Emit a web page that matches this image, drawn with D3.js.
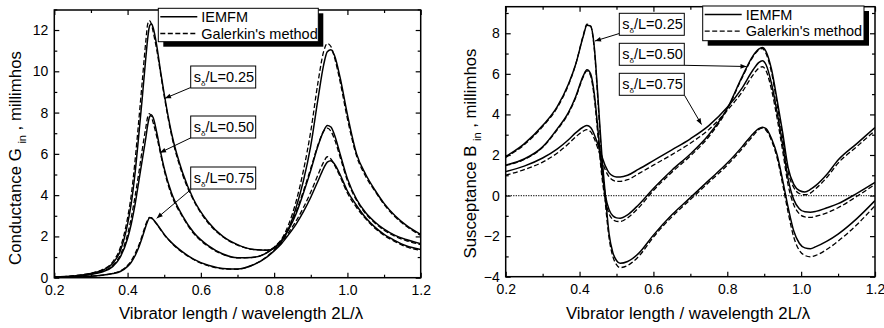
<!DOCTYPE html>
<html>
<head>
<meta charset="utf-8">
<script src="https://cdn.jsdelivr.net/npm/d3@7"></script>
<style>
  body { margin: 0; background: #fff; }
  svg { display: block; font-family: "Liberation Sans", Arial, sans-serif; }
</style>
</head>
<body>
<svg id="chart" width="884" height="328"></svg>
<script>
// ---- data: conductance (left panel) ----
const xG = [0.20,0.25,0.30,0.33,0.36,0.38,0.40,0.41,0.42,0.43,0.44,0.45,0.455,0.46,0.465,0.47,0.48,0.49,0.50,0.52,0.55,0.58,0.62,0.66,0.70,0.74,0.78,0.80,0.82,0.84,0.86,0.88,0.90,0.92,0.935,0.945,0.955,0.965,0.98,1.00,1.025,1.05,1.075,1.10,1.13,1.16,1.20];
const G25s = [0.03,0.08,0.2,0.35,0.7,1.3,2.6,3.6,5.0,6.8,8.7,10.7,11.6,12.2,12.3,12.1,11.2,10.0,8.9,7.0,5.1,3.8,2.7,2.0,1.6,1.38,1.33,1.42,1.75,2.4,3.4,4.7,6.4,8.7,10.3,10.95,11.05,10.75,9.7,7.9,6.0,5.0,4.25,3.6,3.0,2.55,2.1];
const G25d = [0.03,0.09,0.22,0.38,0.78,1.45,2.9,4.0,5.6,7.5,9.5,11.5,12.3,12.45,12.3,11.9,11.0,9.9,8.8,6.9,5.0,3.75,2.65,1.98,1.58,1.37,1.34,1.46,1.85,2.6,3.7,5.2,7.1,9.5,10.95,11.35,11.2,10.65,9.5,7.7,5.9,4.9,4.2,3.55,2.95,2.5,2.05];
const G50s = [0.02,0.06,0.16,0.28,0.55,1.0,1.9,2.6,3.5,4.6,5.7,6.8,7.4,7.8,7.9,7.75,7.0,6.1,5.3,4.1,3.0,2.2,1.55,1.15,0.97,0.98,1.2,1.45,1.8,2.35,3.1,4.1,5.2,6.4,7.1,7.38,7.3,6.9,6.0,4.8,3.8,3.15,2.7,2.35,2.05,1.85,1.65];
const G50d = [0.02,0.07,0.18,0.31,0.6,1.1,2.1,2.9,3.9,5.0,6.2,7.3,7.8,7.95,7.8,7.5,6.8,6.0,5.2,4.0,2.95,2.15,1.52,1.13,0.96,0.98,1.22,1.48,1.85,2.42,3.2,4.2,5.3,6.45,7.1,7.25,7.1,6.7,5.85,4.7,3.75,3.1,2.65,2.3,2.0,1.8,1.6];
const G75s = [0.01,0.03,0.07,0.12,0.2,0.3,0.55,0.75,1.05,1.45,1.95,2.5,2.75,2.9,2.9,2.82,2.6,2.35,2.1,1.7,1.25,0.9,0.6,0.45,0.42,0.6,1.0,1.3,1.65,2.1,2.6,3.2,3.9,4.7,5.3,5.6,5.67,5.5,5.0,4.2,3.5,2.9,2.45,2.1,1.8,1.55,1.37];
const G75d = [0.01,0.03,0.07,0.12,0.21,0.32,0.6,0.82,1.15,1.55,2.05,2.6,2.8,2.92,2.88,2.8,2.58,2.33,2.08,1.68,1.22,0.88,0.58,0.43,0.41,0.6,1.02,1.33,1.72,2.2,2.75,3.4,4.15,5.0,5.6,5.86,5.75,5.45,4.9,4.1,3.4,2.85,2.4,2.05,1.75,1.5,1.32];

// ---- data: susceptance (right panel) ----
const xB = [0.20,0.25,0.30,0.34,0.37,0.39,0.41,0.42,0.43,0.44,0.45,0.46,0.47,0.48,0.49,0.50,0.51,0.53,0.56,0.60,0.65,0.70,0.75,0.80,0.84,0.87,0.885,0.895,0.905,0.92,0.935,0.95,0.965,0.98,0.995,1.01,1.025,1.04,1.07,1.10,1.15,1.20];
const B25s = [1.92,2.55,3.45,4.4,5.5,6.5,7.85,8.4,8.35,7.3,4.8,2.1,0.0,-1.9,-2.8,-3.2,-3.34,-3.25,-2.85,-1.95,-0.95,-0.1,0.75,1.6,2.4,3.05,3.3,3.37,3.3,2.8,2.0,0.75,-0.6,-1.75,-2.35,-2.58,-2.62,-2.52,-2.25,-1.9,-1.15,-0.25];
const B25d = [1.88,2.5,3.4,4.35,5.45,6.5,7.9,8.45,8.35,7.2,4.6,1.8,-0.4,-2.1,-3.0,-3.4,-3.55,-3.45,-3.0,-2.05,-1.05,-0.2,0.65,1.5,2.3,2.95,3.25,3.32,3.22,2.7,1.85,0.55,-0.85,-2.05,-2.7,-2.95,-3.02,-2.95,-2.65,-2.25,-1.45,-0.5];
const B50s = [1.5,1.8,2.4,3.3,4.1,4.9,5.9,6.2,6.0,5.0,3.2,1.3,0.0,-0.7,-1.0,-1.1,-1.12,-0.95,-0.45,0.35,1.25,2.05,3.0,4.3,5.85,6.9,7.22,7.3,7.1,6.2,4.7,3.1,1.35,0.55,0.25,0.18,0.3,0.5,1.05,1.75,2.55,3.35];
const B50d = [1.48,1.78,2.38,3.25,4.05,4.85,5.85,6.15,5.9,4.8,2.9,1.0,-0.25,-0.9,-1.18,-1.27,-1.28,-1.1,-0.6,0.25,1.15,1.95,2.9,4.25,5.8,6.85,7.18,7.25,7.0,6.05,4.5,2.85,1.15,0.4,0.1,0.04,0.12,0.35,0.9,1.6,2.4,3.2];
const B75s = [1.18,1.45,1.85,2.3,2.75,3.1,3.38,3.45,3.35,3.0,2.5,1.95,1.45,1.12,0.97,0.92,0.92,1.0,1.3,1.72,2.25,2.8,3.45,4.35,5.3,6.2,6.55,6.65,6.45,5.5,4.1,2.5,0.8,-0.2,-0.65,-0.8,-0.82,-0.78,-0.6,-0.4,0.1,0.65];
const B75d = [1.0,1.28,1.65,2.1,2.55,2.9,3.18,3.25,3.15,2.8,2.3,1.75,1.25,0.92,0.76,0.7,0.7,0.78,1.08,1.5,2.02,2.58,3.25,4.2,5.1,5.95,6.28,6.35,6.15,5.2,3.8,2.2,0.5,-0.45,-0.9,-1.05,-1.08,-1.02,-0.85,-0.6,-0.05,0.55];

const xMajor = [0.2,0.4,0.6,0.8,1.0,1.2];
const xMinor = [0.3,0.5,0.7,0.9,1.1];
const gMajor = [0,2,4,6,8,10,12];
const gMinor = [1,3,5,7,9,11,13];
const bMajor = [-4,-2,0,2,4,6,8];
const bMinor = [-3,-1,1,3,5,7,9];
const legendLabels = ["IEMFM", "Galerkin's method"];
const ratioLabels = ["0.25", "0.50", "0.75"];

const svg = d3.select("#chart");
const font = "'Liberation Sans', Arial, sans-serif";

svg.append("defs").append("marker")
    .attr("id", "arr")
    .attr("viewBox", "0 0 10 10")
    .attr("refX", 10).attr("refY", 5)
    .attr("markerWidth", 7).attr("markerHeight", 6)
    .attr("orient", "auto")
  .append("path")
    .attr("d", "M0,1L10,5L0,9Z")
    .attr("fill", "#000");

function panel(o) {
    const x = d3.scaleLinear().domain([0.2, 1.2]).range([o.left, o.right]);
    const y = d3.scaleLinear().domain(o.yDomain).range([o.bottom, o.top]);
    const g = svg.append("g");

    g.append("clipPath").attr("id", o.id + "clip")
      .append("rect")
        .attr("x", o.left).attr("y", o.top)
        .attr("width", o.right - o.left).attr("height", o.bottom - o.top);

    const plot = g.append("g").attr("clip-path", `url(#${o.id}clip)`);

    if (o.zeroLine) {
        plot.append("line")
            .attr("x1", o.left).attr("x2", o.right)
            .attr("y1", y(0)).attr("y2", y(0))
            .attr("stroke", "#222").attr("stroke-width", 1.2)
            .attr("stroke-dasharray", "1.2,1.3");
    }

    o.series.forEach(s => {
        const line = d3.line()
            .x((d, i) => x(o.xs[i]))
            .y(d => y(d))
            .curve(d3.curveMonotoneX);
        plot.append("path")
            .datum(s.values)
            .attr("d", line)
            .attr("fill", "none")
            .attr("stroke", "#000")
            .attr("stroke-width", s.dashed ? 1.3 : 1.5)
            .attr("stroke-dasharray", s.dashed ? "5,2.5" : null);
    });

    // axes, ticks inward on all four sides
    const axes = [
        [d3.axisBottom(x), `translate(0,${o.bottom})`, xMajor, xMinor, d3.format(".1f"), 7.5],
        [d3.axisTop(x), `translate(0,${o.top})`, xMajor, xMinor, "", 6],
        [d3.axisLeft(y), `translate(${o.left},0)`, o.yMajor, o.yMinor, d3.format("d"), 6],
        [d3.axisRight(y), `translate(${o.right},0)`, o.yMajor, o.yMinor, "", 6]
    ];
    axes.forEach(([ax, tr, major, minor, fmt, pad]) => {
        const a = g.append("g").attr("transform", tr)
            .call(ax.tickValues(major).tickSize(-5).tickSizeOuter(0).tickPadding(pad).tickFormat(fmt));
        a.select(".domain").remove();
        a.selectAll("text").attr("font-size", 14).attr("font-family", font).attr("fill", "#000");
        a.selectAll("line").attr("stroke-width", 1.2);
        const m = g.append("g").attr("transform", tr)
            .call(ax.tickValues(minor).tickSize(-3).tickSizeOuter(0).tickFormat(""));
        m.select(".domain").remove();
        m.selectAll("line").attr("stroke-width", 1.2);
    });

    g.append("rect")
        .attr("x", o.left).attr("y", o.top)
        .attr("width", o.right - o.left).attr("height", o.bottom - o.top)
        .attr("fill", "none").attr("stroke", "#000").attr("stroke-width", 1.5);

    // axis titles
    g.append("text")
        .attr("x", o.xTitleX).attr("y", 319)
        .attr("text-anchor", "middle")
        .attr("font-size", 16.8)
        .text("Vibrator length / wavelength 2L/\u03bb");

    const yt = g.append("text")
        .attr("transform", `translate(${o.yTitleX},${o.yTitleY}) rotate(-90)`)
        .attr("text-anchor", "middle")
        .attr("font-size", 16.8);
    yt.append("tspan").text(o.yTitle + " ");
    yt.append("tspan").attr("dy", 5).attr("font-size", 11).text("in");
    yt.append("tspan").attr("dy", -5).text(" , millimhos");

    // annotation boxes with arrows
    o.boxes.forEach((b, i) => {
        g.append("line")
            .attr("x1", b.from[0]).attr("y1", b.from[1])
            .attr("x2", b.to[0]).attr("y2", b.to[1])
            .attr("stroke", "#000").attr("stroke-width", 1)
            .attr("marker-end", "url(#arr)");
        g.append("rect")
            .attr("x", b.x).attr("y", b.y)
            .attr("width", 65).attr("height", 22)
            .attr("fill", "#fff").attr("stroke", "#000").attr("stroke-width", 1);
        const t = g.append("text")
            .attr("x", b.x + 3).attr("y", b.y + 16)
            .attr("font-size", 14.5);
        t.append("tspan").text("s");
        t.append("tspan").attr("dy", 4).attr("font-size", 8).text("\u03b4");
        t.append("tspan").attr("dy", -4).text("/L=" + ratioLabels[i]);
    });

    // legend with drop shadow
    const L = o.legend;
    g.append("rect")
        .attr("x", L.x + 5).attr("y", L.y + 5)
        .attr("width", L.w).attr("height", L.h)
        .attr("fill", "#000");
    g.append("rect")
        .attr("x", L.x).attr("y", L.y)
        .attr("width", L.w).attr("height", L.h)
        .attr("fill", "#fff").attr("stroke", "#000").attr("stroke-width", 1);
    legendLabels.forEach((lab, i) => {
        const ly = L.y + 8.5 + i * 16.7;
        g.append("line")
            .attr("x1", L.x + 2).attr("x2", L.x + 39)
            .attr("y1", ly).attr("y2", ly)
            .attr("stroke", "#000").attr("stroke-width", i ? 1.3 : 1.5)
            .attr("stroke-dasharray", i ? "5,2.5" : null);
        g.append("text")
            .attr("x", L.x + 43).attr("y", ly + 5.2)
            .attr("font-size", 14.5)
            .text(lab);
    });
}

panel({
    id: "g", left: 54.3, right: 420.7, top: 10, bottom: 277.7,
    yDomain: [0, 12.97], yMajor: gMajor, yMinor: gMinor,
    xs: xG,
    series: [
        {values: G25s}, {values: G25d, dashed: true},
        {values: G50s}, {values: G50d, dashed: true},
        {values: G75s}, {values: G75d, dashed: true}
    ],
    xTitleX: 241, yTitleX: 20.5, yTitleY: 158, yTitle: "Conductance G",
    legend: {x: 158.3, y: 8.3, w: 160, h: 33.4},
    boxes: [
        {x: 190.7, y: 66, from: [190.7, 87.5], to: [165, 98.3]},
        {x: 190.7, y: 116, from: [191.5, 137.5], to: [160, 152.7]},
        {x: 190.7, y: 167, from: [191.5, 189], to: [156.7, 218.3]}
    ]
});

panel({
    id: "b", left: 505.7, right: 875, top: 6.7, bottom: 276.7,
    yDomain: [-4, 9.31], yMajor: bMajor, yMinor: bMinor,
    xs: xB, zeroLine: true,
    series: [
        {values: B25s}, {values: B25d, dashed: true},
        {values: B50s}, {values: B50d, dashed: true},
        {values: B75s}, {values: B75d, dashed: true}
    ],
    xTitleX: 688, yTitleX: 475.5, yTitleY: 153.5, yTitle: "Susceptance B",
    legend: {x: 702.7, y: 6, w: 161.3, h: 34.7},
    boxes: [
        {x: 619.3, y: 13.3, from: [619.3, 33.5], to: [595, 41]},
        {x: 619.3, y: 43.3, from: [684.3, 65.3], to: [746.5, 66.5]},
        {x: 619.3, y: 73.3, from: [684.5, 95.3], to: [701.5, 124.5]}
    ]
});
</script>
</body>
</html>
